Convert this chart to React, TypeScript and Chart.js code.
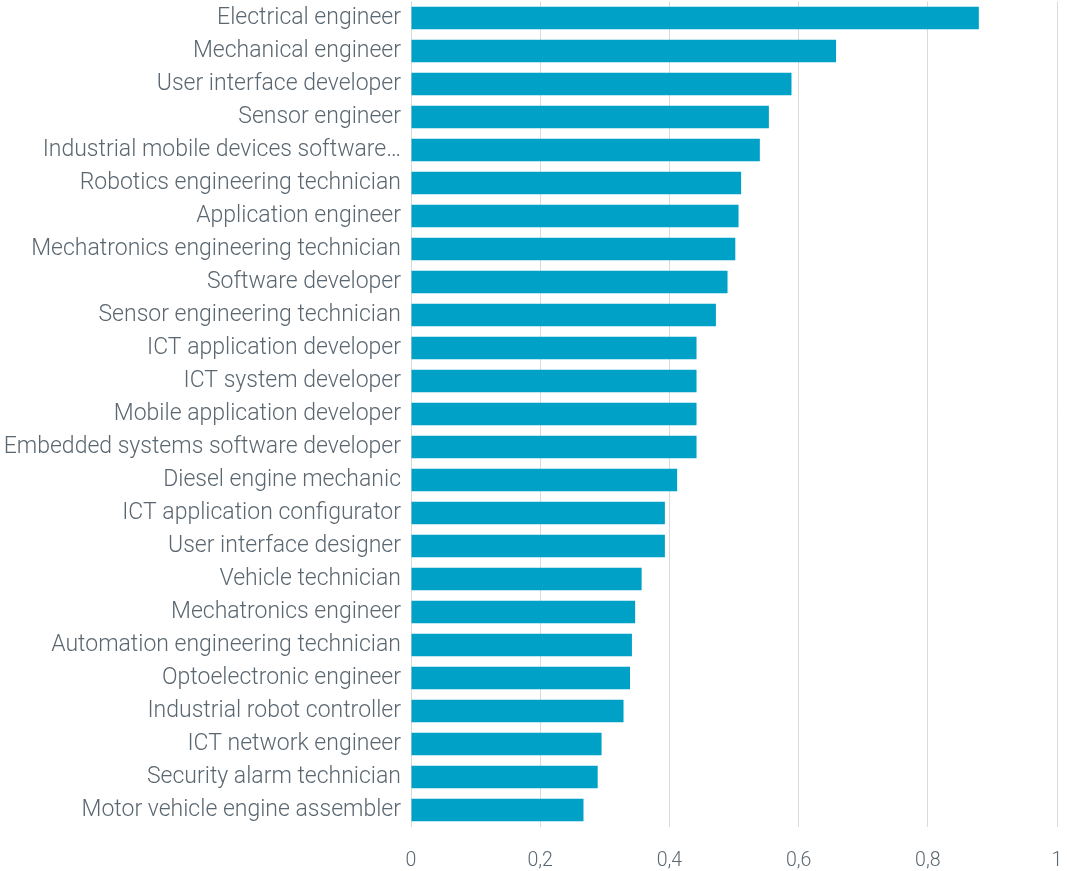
import React, { useEffect, useRef } from "react";
import { Chart, registerables } from "chart.js";

Chart.register(...registerables);

const categories: string[] = [
  "Electrical engineer",
  "Mechanical engineer",
  "User interface developer",
  "Sensor engineer",
  "Industrial mobile devices software…",
  "Robotics engineering technician",
  "Application engineer",
  "Mechatronics engineering technician",
  "Software developer",
  "Sensor engineering technician",
  "ICT application developer",
  "ICT system developer",
  "Mobile application developer",
  "Embedded systems software developer",
  "Diesel engine mechanic",
  "ICT application configurator",
  "User interface designer",
  "Vehicle technician",
  "Mechatronics engineer",
  "Automation engineering technician",
  "Optoelectronic engineer",
  "Industrial robot controller",
  "ICT network engineer",
  "Security alarm technician",
  "Motor vehicle engine assembler",
];

const values: number[] = [
  0.879, 0.658, 0.589, 0.554, 0.54, 0.511, 0.507, 0.502, 0.49, 0.472,
  0.442, 0.442, 0.442, 0.442, 0.412, 0.393, 0.393, 0.357, 0.347, 0.342,
  0.339, 0.329, 0.295, 0.289, 0.267,
];

const xMin = 0;
const xMax = 1;
const xStep = 0.2;

const BAR_COLOR = "#00a1c6";
const TEXT_COLOR = "#5b6770";
const GRID_COLOR = "#d9d9d9";
const FONT_FAMILY = "Roboto, 'Noto Sans', sans-serif";

export default function App() {
  const canvasRef = useRef<HTMLCanvasElement | null>(null);

  useEffect(() => {
    document.body.style.margin = "0";
    const canvas = canvasRef.current;
    if (!canvas) return;
    const chart = new Chart(canvas, {
      type: "bar",
      data: {
        labels: categories,
        datasets: [
          {
            data: values,
            backgroundColor: BAR_COLOR,
            borderWidth: 0,
            barPercentage: 0.68,
            categoryPercentage: 1,
          },
        ],
      },
      options: {
        indexAxis: "y",
        animation: false,
        responsive: false,
        maintainAspectRatio: false,
        layout: { padding: { top: 1.5, right: 10, left: 0, bottom: 0 } },
        plugins: {
          legend: { display: false },
          tooltip: { enabled: false },
        },
        scales: {
          x: {
            min: xMin,
            max: xMax,
            grid: {
              color: GRID_COLOR,
              lineWidth: 1,
              drawTicks: false,
            },
            border: { display: false },
            ticks: {
              stepSize: xStep,
              padding: 23,
              color: TEXT_COLOR,
              font: { family: FONT_FAMILY, size: 19.5, weight: 300 },
              callback: (v: any) => String(Number(Number(v).toFixed(1))).replace(".", ","),
            },
            afterFit: (scale: any) => {
              scale.height = 44.5;
              scale.paddingLeft = 0;
              scale.paddingRight = 0;
            },
          },
          y: {
            grid: { display: false, drawTicks: false },
            border: { display: false },
            ticks: {
              padding: 10,
              color: TEXT_COLOR,
              autoSkip: false,
              font: { family: FONT_FAMILY, size: 23, weight: 300 },
            },
            afterFit: (scale: any) => {
              scale.width = 411;
              scale.paddingTop = 0;
              scale.paddingBottom = 0;
            },
          },
        },
      },
    });
    return () => chart.destroy();
  }, []);

  return (
    <div style={{ position: "absolute", left: 0, top: 0, width: 1067, height: 871 }}>
      <canvas ref={canvasRef} width={1067} height={871} style={{ display: "block" }} />
    </div>
  );
}
